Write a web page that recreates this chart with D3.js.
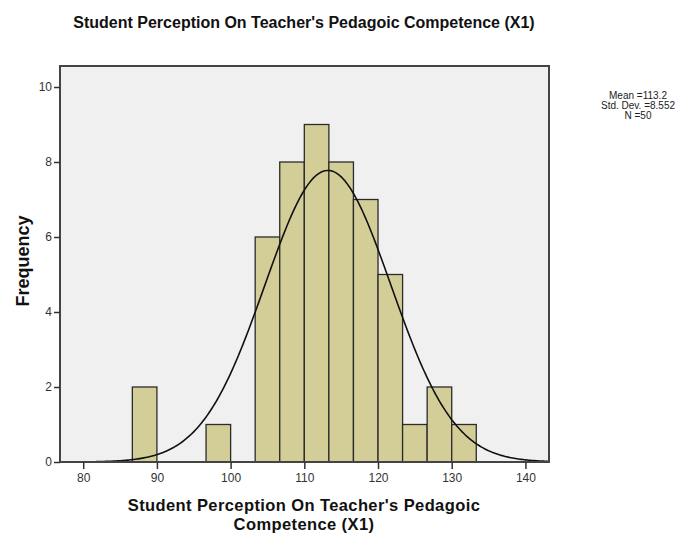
<!DOCTYPE html>
<html>
<head>
<meta charset="utf-8">
<script src="https://cdn.jsdelivr.net/npm/d3@7"></script>
<style>
	body { margin: 0; background: #fff; }
	svg { font-family: "Liberation Sans", Arial, sans-serif; }
	.axis path { display: none; }
	.axis line { stroke: #333; stroke-width: 1.5px; }
	.axis text { font-size: 12px; fill: #333; }
</style>
</head>
<body>
<svg id="histogram" width="686" height="538"></svg>
<script>
// bins of width 10/3, lower edges and counts
var binStarts = [86.667, 96.667, 103.333, 106.667, 110, 113.333, 116.667, 120, 123.333, 126.667, 130];
var binCounts = [2, 1, 6, 8, 9, 8, 7, 5, 1, 2, 1];
var binWidth = 10 / 3;
var xTicks = [80, 90, 100, 110, 120, 130, 140];
var yTicks = [0, 2, 4, 6, 8, 10];
var stats = { mean: 113.2, sd: 8.552, n: 50 };
var statLines = ['Mean =113.2', 'Std. Dev. =8.552', 'N =50'];

(function() {
	'use strict';

	var svg = d3.select('#histogram'),
		margin = { top: 66, left: 60 },
		width = 489,
		height = 396;

	var xScale = d3.scaleLinear()
			.domain([76.85, 143.2])
			.range([0, width]);

	var yScale = d3.scaleLinear()
			.domain([0, 10.56])
			.range([height, 0]);

	var data = binStarts.map(function(s, i) {
		return { x0: s, x1: s + binWidth, count: binCounts[i] };
	});

	// title
	svg.append('text')
		.attr('x', 304)
		.attr('y', 28)
		.attr('text-anchor', 'middle')
		.style('font-size', '16px')
		.style('font-weight', 'bold')
		.style('fill', '#111')
		.text("Student Perception On Teacher's Pedagoic Competence (X1)");

	var g = svg.append('g')
		.attr('transform', 'translate(' + margin.left + ',' + margin.top + ')');

	// plot background
	g.append('rect')
		.attr('width', width)
		.attr('height', height)
		.attr('fill', '#f0f0f0');

	// bars
	g.selectAll('.bar')
		.data(data)
		.enter()
		.append('rect')
		.attr('class', 'bar')
		.attr('x', function(d) { return xScale(d.x0); })
		.attr('y', function(d) { return yScale(d.count); })
		.attr('width', function(d) { return xScale(d.x1) - xScale(d.x0); })
		.attr('height', function(d) { return height - yScale(d.count); })
		.attr('fill', '#d3ce97')
		.attr('stroke', '#2b2b2b')
		.attr('stroke-width', 1.3);

	// normal curve
	var scaleFactor = stats.n * binWidth;
	var curvePts = d3.range(76.85, 143.21, 0.2).map(function(x) {
		var z = (x - stats.mean) / stats.sd;
		return [x, scaleFactor * Math.exp(-0.5 * z * z) / (stats.sd * Math.sqrt(2 * Math.PI))];
	});

	g.append('path')
		.datum(curvePts)
		.attr('fill', 'none')
		.attr('stroke', '#111')
		.attr('stroke-width', 1.6)
		.attr('d', d3.line()
			.x(function(d) { return xScale(d[0]); })
			.y(function(d) { return yScale(d[1]); }));

	// frame
	g.append('rect')
		.attr('width', width)
		.attr('height', height)
		.attr('fill', 'none')
		.attr('stroke', '#444')
		.attr('stroke-width', 2);

	// axes
	g.append('g')
		.attr('class', 'axis')
		.attr('transform', 'translate(0,' + height + ')')
		.call(d3.axisBottom(xScale).tickValues(xTicks).tickSize(7).tickPadding(4));

	g.append('g')
		.attr('class', 'axis')
		.call(d3.axisLeft(yScale).tickValues(yTicks).tickSize(6).tickPadding(2));

	// y label
	svg.append('text')
		.attr('transform', 'translate(29,261) rotate(-90)')
		.attr('text-anchor', 'middle')
		.style('font-size', '18px')
		.style('font-weight', 'bold')
		.style('fill', '#111')
		.text('Frequency');

	// x label, two lines
	svg.append('text')
		.attr('x', 304)
		.attr('y', 511)
		.attr('text-anchor', 'middle')
		.style('font-size', '16.5px')
		.style('letter-spacing', '0.4px')
		.style('font-weight', 'bold')
		.style('fill', '#111')
		.text("Student Perception On Teacher's Pedagoic");

	svg.append('text')
		.attr('x', 304)
		.attr('y', 530)
		.attr('text-anchor', 'middle')
		.style('font-size', '16.5px')
		.style('letter-spacing', '0.4px')
		.style('font-weight', 'bold')
		.style('fill', '#111')
		.text('Competence (X1)');

	// stats box
	svg.append('g')
		.selectAll('text')
		.data(statLines)
		.enter()
		.append('text')
		.attr('x', 638)
		.attr('y', function(d, i) { return 99 + i * 10; })
		.attr('text-anchor', 'middle')
		.style('font-size', '10px')
		.style('fill', '#222')
		.text(function(d) { return d; });
})();
</script>
</body>
</html>
